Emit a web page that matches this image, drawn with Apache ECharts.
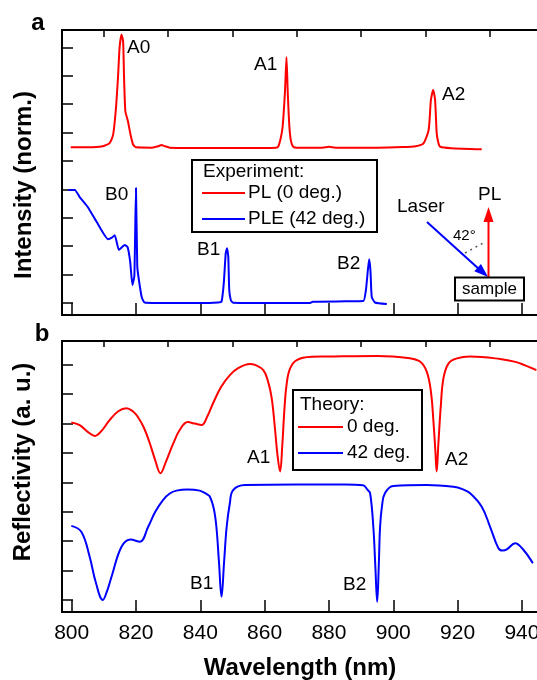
<!DOCTYPE html>
<html>
<head>
<meta charset="utf-8">
<script src="https://cdn.jsdelivr.net/npm/echarts@6/dist/echarts.min.js"></script>
<style>
html,body{margin:0;padding:0;background:#fff;}
#chart{width:537px;height:680px;}
</style>
</head>
<body>
<div id="chart"></div>
<script>
// ---- data (wavelength nm, value in axis units) ----
const xMajorTicks = [800, 820, 840, 860, 880, 900, 920, 940];
const xMinorTicks = [810, 830, 850, 870, 890, 910, 930];
const yTicksA = [0, 1, 2, 3, 4, 5, 6, 7, 8, 9];
const yTicksB = [0, 1, 2, 3, 4, 5, 6, 7, 8];

const plRed = [[799.7,5.48],[805,5.48],[809.7,5.52],[811.8,5.63],[812.9,5.93],[813.7,6.75],[814.4,7.92],[814.9,8.98],[815.5,9.45],[816.0,9.21],[816.3,7.92],[816.7,6.75],[817.5,6.40],[818.3,5.93],[819.1,5.58],[820.1,5.48],[825,5.47],[827,5.52],[827.9,5.56],[829,5.52],[830.5,5.47],[840,5.46],[850,5.46],[860,5.46],[863.5,5.47],[864.2,5.5],[865.0,5.8],[865.6,6.21],[866.3,7.38],[866.8,8.65],[867.2,7.38],[867.7,6.21],[868.2,5.7],[868.9,5.5],[870,5.47],[878,5.47],[880,5.5],[882,5.47],[895,5.47],[903,5.49],[907,5.52],[909.4,5.62],[911,6.09],[911.7,7.15],[912.4,7.5],[913,7.15],[913.5,5.98],[914,5.65],[914.6,5.5],[918,5.45],[927.5,5.41]];

const pleBlue = [[799,3.98],[801,3.98],[802.5,3.73],[805,3.38],[807.8,2.85],[811.3,2.25],[812.5,2.3],[813.4,2.39],[814.7,1.87],[816.5,2.04],[817.4,1.97],[818.2,1.45],[818.9,0.63],[819.5,0.95],[820.0,4.05],[820.4,1.3],[820.8,0.9],[821.8,0.2],[822.7,0.02],[830,0.0],[840,0.0],[845.5,0.02],[846.6,0.05],[847.3,0.69],[847.9,1.75],[848.3,1.93],[848.7,1.63],[849,0.46],[849.5,0.1],[850.2,0.01],[860,0.0],[874,0.0],[875,0.05],[885,0.06],[890.7,0.07],[891.5,0.46],[892.1,1.16],[892.5,1.54],[892.9,1.16],[893.3,0.22],[894.3,0.02],[898,-0.03]];

const refl0 = [[799.9,6.04],[802.5,5.95],[805,5.72],[807.2,5.58],[809.5,5.78],[811.8,6.12],[814.5,6.42],[817,6.52],[819,6.42],[820.5,6.24],[822.5,5.85],[824.3,5.33],[826,4.75],[827.6,4.31],[829.3,4.7],[831.5,5.3],[833.6,5.78],[836.1,6.05],[838.3,6.0],[840.4,5.95],[842.2,6.25],[844,6.7],[846.5,7.25],[849.2,7.65],[852,7.9],[855.4,8.03],[857,8.0],[859.6,7.82],[861.1,7.42],[862.2,6.87],[863.2,5.85],[864.0,4.93],[864.8,4.37],[865.5,5.27],[866.1,6.39],[866.8,7.30],[867.9,7.87],[870,8.16],[874.6,8.27],[879.3,8.28],[895,8.3],[905.2,8.22],[908.3,8.11],[910.4,7.77],[911.7,7.09],[912.5,6.06],[913.1,5.05],[913.5,4.37],[914.0,5.27],[914.8,6.63],[915.6,7.54],[917.2,8.05],[919.8,8.22],[923.9,8.28],[933.2,8.2],[938,8.1],[941,7.98],[944.5,7.82]];

const refl42 = [[799.9,2.52],[803,2.32],[805.6,1.47],[807.5,0.6],[809.7,0.0],[811,0.3],[812.4,0.79],[815.5,1.81],[818.3,2.06],[821.2,1.98],[823.8,2.49],[826,3.0],[828.4,3.4],[830.5,3.62],[832.6,3.72],[836,3.76],[839.8,3.72],[842,3.6],[843,3.51],[844.2,3.1],[845,2.49],[845.8,1.3],[846.6,0.11],[847.4,1.3],[848.2,2.49],[849.2,3.3],[850.2,3.74],[853.9,3.91],[870,3.93],[885,3.93],[890.6,3.9],[892,3.75],[892.8,3.63],[893.8,2.49],[894.4,1.2],[895,-0.06],[895.5,1.2],[895.9,2.49],[896.5,3.2],[897.4,3.63],[900,3.88],[910.4,3.91],[918.7,3.85],[921.5,3.77],[923.9,3.63],[927.5,3.17],[930.1,2.49],[932.7,1.76],[934,1.68],[935.3,1.72],[937.9,1.93],[940.5,1.7],[943.4,1.25]];

// ---- chart ----
const FONT = '"Liberation Sans", Arial, sans-serif';
const chart = echarts.init(document.getElementById('chart'), null, {renderer: 'canvas'});

function xAx(grid, ticks, len, labels, name) {
  return {
    type: 'value', gridIndex: grid, min: 797, max: 945,
    axisLine: {show: false, onZero: false},
    axisTick: {show: true, inside: true, length: len, customValues: ticks, lineStyle: {color: '#000', width: 1.5}},
    axisLabel: labels ? {show: true, customValues: ticks, color: '#000', fontSize: 21, fontFamily: FONT, margin: 11} : {show: false},
    splitLine: {show: false},
    name: name || '', nameLocation: 'middle', nameGap: 44,
    nameTextStyle: {color: '#000', fontSize: 24, fontWeight: 'bold', fontFamily: FONT}
  };
}
function yAx(grid, min, max, ticks) {
  return {
    type: 'value', gridIndex: grid, min: min, max: max,
    axisLine: {show: false, onZero: false},
    axisTick: {show: true, inside: true, length: 11, customValues: ticks, lineStyle: {color: '#000', width: 1.5}},
    axisLabel: {show: false},
    splitLine: {show: false}
  };
}
function line(data, color, xi, yi, smooth) {
  return {type: 'line', data: data, xAxisIndex: xi, yAxisIndex: yi, showSymbol: false, symbol: 'none',
    smooth: smooth, lineStyle: {color: color, width: 2}, animation: false, z: 3};
}
function txt(x, y, s, size) {
  return {type: 'text', x: x, y: y, z: 100, style: {text: s, fill: '#000', font: size + 'px ' + FONT, align: 'left', verticalAlign: 'middle'}};
}

const graphics = [
  // panel letters
  {type:'text', x:38, y:23, z:100, style:{text:'a', font:'bold 24px '+FONT, fill:'#000', align:'center', verticalAlign:'middle'}},
  {type:'text', x:42, y:334, z:100, style:{text:'b', font:'bold 24px '+FONT, fill:'#000', align:'center', verticalAlign:'middle'}},
  // y titles
  {type:'text', x:24, y:185, rotation:Math.PI/2, z:100, style:{text:'Intensity (norm.)', font:'bold 24px '+FONT, fill:'#000', align:'center', verticalAlign:'middle'}},
  {type:'text', x:23, y:462, rotation:Math.PI/2, z:100, style:{text:'Reflectivity (a. u.)', font:'bold 24px '+FONT, fill:'#000', align:'center', verticalAlign:'middle'}},
  // peak labels panel a
  txt(127, 48, 'A0', 19), txt(254, 65, 'A1', 19), txt(442, 95, 'A2', 19),
  txt(105, 195, 'B0', 19), txt(197, 250, 'B1', 19), txt(337, 264, 'B2', 19),
  // panel b labels
  txt(247, 458, 'A1', 19), txt(445, 460, 'A2', 19), txt(190, 584, 'B1', 19), txt(343, 585, 'B2', 19),
  // legend a
  {type:'rect', z:99, shape:{x:192, y:160, width:185, height:72}, style:{fill:'#fff', stroke:'#000', lineWidth:2}},
  txt(203, 172, 'Experiment:', 19),
  {type:'line', z:100, shape:{x1:202, y1:193, x2:245, y2:193}, style:{stroke:'#ff0000', lineWidth:2}},
  txt(248, 193, 'PL (0 deg.)', 19),
  {type:'line', z:100, shape:{x1:202, y1:219, x2:245, y2:219}, style:{stroke:'#0000ff', lineWidth:2}},
  txt(248, 219, 'PLE (42 deg.)', 19),
  // legend b
  {type:'rect', z:99, shape:{x:293, y:390, width:129, height:80}, style:{fill:'#fff', stroke:'#000', lineWidth:2}},
  txt(300, 405, 'Theory:', 19),
  {type:'line', z:100, shape:{x1:298, y1:427, x2:343, y2:427}, style:{stroke:'#ff0000', lineWidth:2}},
  txt(347, 427, '0 deg.', 19),
  {type:'line', z:100, shape:{x1:298, y1:453, x2:343, y2:453}, style:{stroke:'#0000ff', lineWidth:2}},
  txt(347, 453, '42 deg.', 19),
  // inset diagram
  txt(397, 207, 'Laser', 19),
  txt(478, 195, 'PL', 19),
  txt(453, 236, '42°', 15),
  {type:'line', z:100, shape:{x1:427, y1:222, x2:480, y2:270}, style:{stroke:'#0000ff', lineWidth:2}},
  {type:'polygon', z:100, shape:{points:[[488,277],[474.3,271.3],[481,263.9]]}, style:{fill:'#0000ff'}},
  {type:'line', z:100, shape:{x1:488.5, y1:277, x2:488.5, y2:218}, style:{stroke:'#ff0000', lineWidth:2}},
  {type:'polygon', z:100, shape:{points:[[488.5,207],[483.5,222],[493.5,222]]}, style:{fill:'#ff0000'}},
  {type:'line', z:100, shape:{x1:465, y1:253, x2:485, y2:242}, style:{stroke:'#555', lineWidth:1.5, lineDash:[2,4]}},
  {type:'rect', z:100, shape:{x:455, y:277.5, width:69, height:23}, style:{fill:'#fff', stroke:'#000', lineWidth:2}},
  {type:'text', x:489.5, y:289, z:101, style:{text:'sample', font:'17px '+FONT, fill:'#000', align:'center', verticalAlign:'middle'}}
];

chart.setOption({
  animation: false,
  backgroundColor: '#fff',
  grid: [
    {left: 62, top: 30, width: 476, height: 285, show: true, borderColor: '#000', borderWidth: 2, backgroundColor: 'transparent', outerBoundsMode: 'none', containLabel: false},
    {left: 62, top: 341, width: 476, height: 271, show: true, borderColor: '#000', borderWidth: 2, backgroundColor: 'transparent', outerBoundsMode: 'none', containLabel: false}
  ],
  xAxis: [
    xAx(0, xMajorTicks, 12, false),
    xAx(0, xMinorTicks, 7, false),
    xAx(1, xMajorTicks, 12, true, 'Wavelength (nm)'),
    xAx(1, xMinorTicks, 6, false)
  ],
  yAxis: [
    yAx(0, -0.42, 9.61, yTicksA),
    yAx(1, -0.41, 8.81, yTicksB)
  ],
  series: [
    line(plRed, '#ff0000', 0, 0, 0.2),
    line(pleBlue, '#0000ff', 0, 0, 0.15),
    line(refl0, '#ff0000', 2, 1, 0.4),
    line(refl42, '#0000ff', 2, 1, 0.4)
  ],
  graphic: graphics
});
</script>
</body>
</html>
